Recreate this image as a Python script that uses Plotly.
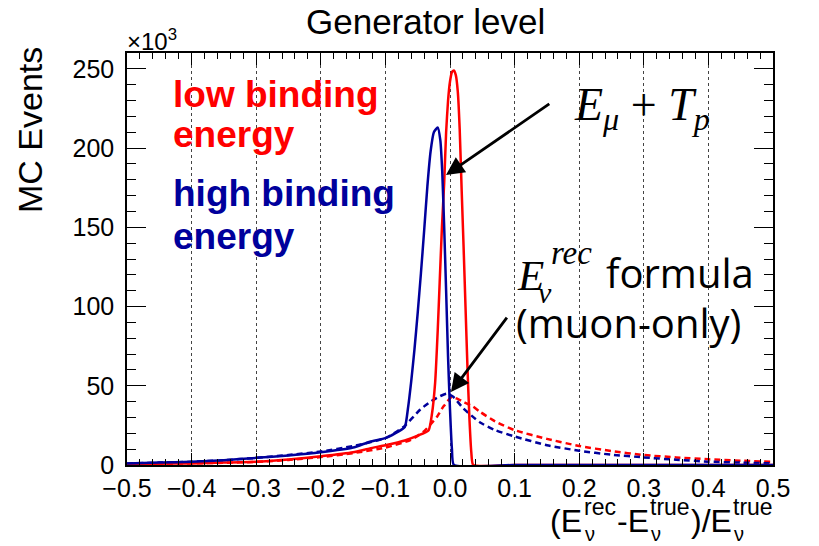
import plotly.graph_objects as go

# ---------------- data (values in units of 10^3 events) ----------------
low_solid_x = [-0.5, -0.45, -0.4, -0.35, -0.3, -0.25, -0.2, -0.15, -0.124, -0.1, -0.07, -0.05, -0.033,
               -0.028, -0.023, -0.019, -0.016, -0.0125, -0.009, -0.006, -0.003, 0.0, 0.003, 0.006,
               0.009, 0.012, 0.015, 0.018, 0.021, 0.024, 0.027, 0.030, 0.033, 0.036, 0.1, 0.2, 0.3, 0.4, 0.5]
low_solid_y = [0.5, 0.8, 1.0, 1.5, 2.0, 3.5, 5.5, 8.0, 10.5, 12.5, 15.5, 18.5, 22,
               32, 52, 85, 115, 150, 178, 210, 230, 242, 248, 249,
               246, 236, 212, 174, 138, 100, 62, 30, 8, 0, 0, 0, 0, 0, 0]

high_solid_x = [-0.5, -0.45, -0.4, -0.35, -0.3, -0.25, -0.2, -0.15, -0.124, -0.1, -0.085, -0.07,
                -0.065, -0.06, -0.055, -0.05, -0.045, -0.04, -0.035, -0.03, -0.025, -0.019,
                -0.015, -0.012, -0.009, -0.006, -0.003, 0.0, 0.003, 0.006, 0.1, 0.2, 0.3, 0.4, 0.5]
high_solid_y = [1.0, 1.5, 2.0, 3.0, 4.5, 6.0, 8.0, 11.0, 14.7, 17, 20, 24,
                36, 53, 73, 96, 121, 148, 176, 198, 210, 213,
                205, 185, 150, 110, 68, 35, 10, 0, 0, 0, 0, 0, 0]

low_dash_x = [-0.5, -0.45, -0.4, -0.35, -0.3, -0.25, -0.2, -0.15, -0.1, -0.06, -0.041, -0.02, -0.01,
              0.003, 0.01, 0.02, 0.036, 0.046, 0.07, 0.1, 0.15, 0.2, 0.25, 0.3, 0.35, 0.4, 0.45, 0.5]
low_dash_y = [0.5, 0.7, 1.0, 1.4, 2.0, 3.2, 5.0, 7.5, 11, 16, 21, 30.5, 37,
              43, 42, 40, 36.8, 33.7, 27.5, 22, 16.5, 12, 8.8, 6.3, 4.8, 3.6, 2.7, 2.0]

high_dash_x = [-0.5, -0.45, -0.4, -0.35, -0.3, -0.25, -0.2, -0.15, -0.1, -0.072, -0.046, -0.03, -0.015,
               -0.005, 0.005, 0.02, 0.046, 0.07, 0.1, 0.15, 0.2, 0.25, 0.3, 0.35, 0.4, 0.45, 0.5]
high_dash_y = [1.0, 1.5, 2.0, 3.0, 4.5, 6.3, 8.5, 12, 17, 24, 35, 40, 43.5,
               45, 43, 36, 27, 22, 18, 12.5, 9, 6.5, 4.8, 3.3, 2.1, 1.5, 1.0]

x_ticks = [-0.5, -0.4, -0.3, -0.2, -0.1, 0.0, 0.1, 0.2, 0.3, 0.4, 0.5]
y_ticks = [0, 50, 100, 150, 200, 250]

RED = "#FF0000"
BLUE = "#00009C"
FONT = "Liberation Sans, Arial, Helvetica, sans-serif"
SERIF = "Liberation Serif, Times New Roman, serif"
ROUND = "Open Sans, sans-serif"

# plot-area geometry in pixels (for text placement)
W, H = 819, 546
L, R, T, B = 127, 773, 53, 465


def px(x):
    return (x - L) / (R - L)


def py(y):
    return (B - y) / (B - T)


fig = go.Figure()
fig.add_trace(go.Scatter(x=low_dash_x, y=low_dash_y, mode="lines",
                         line=dict(color=RED, width=2.5, dash="6px,4px", shape="spline", smoothing=0.6)))
fig.add_trace(go.Scatter(x=high_dash_x, y=high_dash_y, mode="lines",
                         line=dict(color=BLUE, width=2.5, dash="6px,4px", shape="spline", smoothing=0.6)))
fig.add_trace(go.Scatter(x=low_solid_x, y=low_solid_y, mode="lines",
                         line=dict(color=RED, width=2.5, shape="spline", smoothing=0.5)))
fig.add_trace(go.Scatter(x=high_solid_x, y=high_solid_y, mode="lines",
                         line=dict(color=BLUE, width=2.5, shape="spline", smoothing=0.5)))
# dummy trace to create mirrored axes (top / right ticks)
fig.add_trace(go.Scatter(x=[None], y=[None], xaxis="x2", yaxis="y2", showlegend=False, hoverinfo="skip"))

xr = [-0.5, 0.5]
yr = [0, 260]

fig.update_layout(
    width=W, height=H,
    margin=dict(l=L, r=W - R, t=T, b=H - B),
    paper_bgcolor="white", plot_bgcolor="white",
    showlegend=False,
    font=dict(family=FONT, color="black"),
    xaxis=dict(range=xr, tickmode="array", tickvals=x_ticks, tickformat=".1f",
               ticks="inside", ticklen=12, tickwidth=1.2, tickcolor="black",
               minor=dict(dtick=0.02, ticks="inside", ticklen=6, tickwidth=1, tickcolor="black", showgrid=False),
               showline=True, linecolor="black", linewidth=1.5,
               showgrid=True, gridcolor="#444444", griddash="dot", gridwidth=1,
               zeroline=False, tickfont=dict(size=25, family=FONT)),
    yaxis=dict(range=yr, tickmode="array", tickvals=y_ticks,
               ticks="inside", ticklen=19, tickwidth=1.2, tickcolor="black",
               minor=dict(dtick=10, ticks="inside", ticklen=9, tickwidth=1, tickcolor="black", showgrid=False),
               showline=True, linecolor="black", linewidth=1.5, ticklabelstandoff=6,
               showgrid=False, zeroline=False, tickfont=dict(size=25, family=FONT)),
    xaxis2=dict(range=xr, overlaying="x", side="top", tickmode="array", tickvals=x_ticks,
                ticks="inside", ticklen=12, tickwidth=1.2, tickcolor="black",
                minor=dict(dtick=0.02, ticks="inside", ticklen=6, tickwidth=1, tickcolor="black"),
                showline=True, linecolor="black", linewidth=1.5,
                showticklabels=False, showgrid=False, zeroline=False),
    yaxis2=dict(range=yr, overlaying="y", side="right", tickmode="array", tickvals=y_ticks,
                ticks="inside", ticklen=19, tickwidth=1.2, tickcolor="black",
                minor=dict(dtick=10, ticks="inside", ticklen=9, tickwidth=1, tickcolor="black"),
                showline=True, linecolor="black", linewidth=1.5,
                showticklabels=False, showgrid=False, zeroline=False),
)

ann = []


def text(t, x, y, size, family=FONT, color="black", xanchor="left", **kw):
    ann.append(dict(text=t, x=px(x), y=py(y), xref="paper", yref="paper", xanchor=xanchor,
                    yanchor="middle", showarrow=False, font=dict(size=size, family=family, color=color), **kw))


# title
text("Generator level", 425, 22, 35, xanchor="center")
# exponent
text("×10<sup>3</sup>", 125, 40, 24)
# y title
text("MC Events", 30, 130, 34, xanchor="center", textangle=-90)
# x title built from pieces (stacked sub/superscripts as in ROOT)
text("(E", 548, 521, 32)
text("rec", 582, 507, 23)
text("ν", 583, 534, 20)
text("-E", 615, 521, 32)
text("true", 648, 507, 23)
text("ν", 649, 534, 20)
text(")/E", 689, 521, 32)
text("true", 731, 507, 23)
text("ν", 732, 534, 20)
# series labels
for txt, yy, col in (("low binding", 95, RED), ("energy", 134, RED),
                     ("high binding", 194, BLUE), ("energy", 236, BLUE)):
    text("<b>" + txt + "</b>", 171, yy, 37, color=col)
# E_mu + T_p
text("<i>E</i><sub><i>μ</i></sub> + <i>T</i><sub><i>p</i></sub>", 572, 108, 46, family=SERIF)
# E_nu^rec formula (muon-only)
text("<i>E</i>", 515, 275, 43, family=SERIF)
text("<i>rec</i>", 549, 253, 33, family=SERIF)
text("<i>ν</i>", 536, 292, 30, family=SERIF)
text("formula", 604, 272, 40, family=ROUND)
text("(muon-only)", 514, 322, 40, family=ROUND)

# arrows
ann.append(dict(text="", x=-0.0062, y=183, xref="x", yref="y", ax=0.156, ay=228.5, axref="x", ayref="y",
                showarrow=True, arrowhead=2, arrowsize=1.3, arrowwidth=2.8, arrowcolor="black"))
ann.append(dict(text="", x=0.0015, y=46, xref="x", yref="y", ax=0.0898, ay=94, axref="x", ayref="y",
                showarrow=True, arrowhead=2, arrowsize=1.3, arrowwidth=2.8, arrowcolor="black"))

fig.update_layout(annotations=ann)
fig.write_html("out.html")
